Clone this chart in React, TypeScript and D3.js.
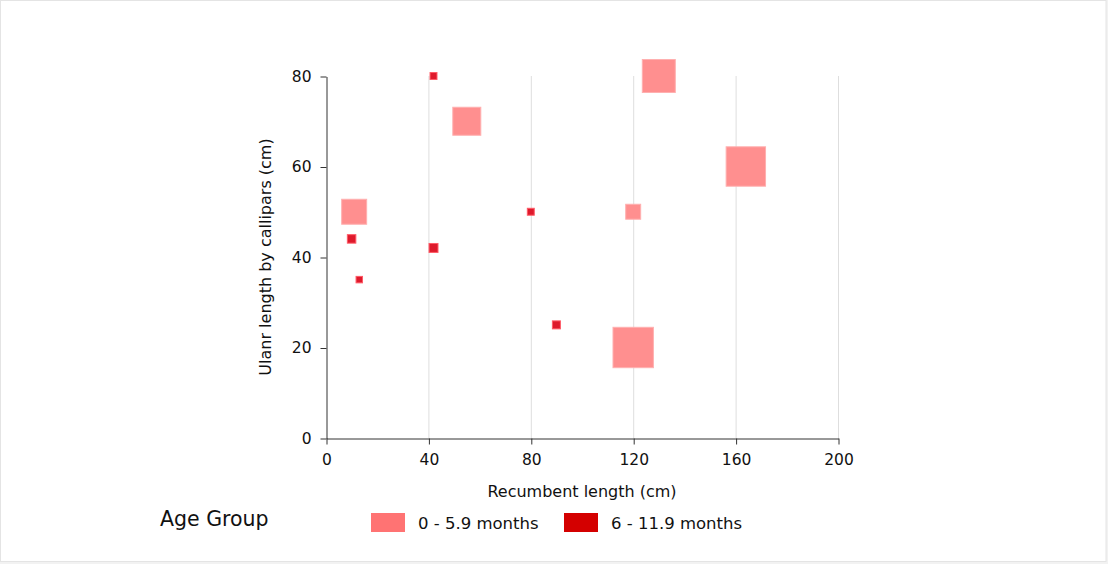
import React, { useEffect, useRef } from "react";
import * as d3 from "d3";

// ---- data ----
const groups = ["0 - 5.9 months", "6 - 11.9 months"];
// 0 - 5.9 months
const youngLength = [11, 55, 130, 120, 164, 120];
const youngUlnar = [50, 70, 80, 50, 60, 20];
const youngWeight = [39, 49, 68, 14, 97, 102];
// 6 - 11.9 months
const olderLength = [42, 10, 13, 42, 80, 90];
const olderUlnar = [80, 44, 35, 42, 50, 25];
const olderWeight = [3, 4.5, 2.6, 5, 3, 4];

const xTicks = [0, 40, 80, 120, 160, 200];
const yTicks = [0, 20, 40, 60, 80];

const legendColors = ["#ff7373", "#d40000"];
const markerFill = ["#ff8f8f", "#de1a2c"];
const markerStroke = ["#ffb0b0", "#ff5a66"];

const FONT = "'DejaVu Sans', Verdana, sans-serif";

export default function App() {
  const ref = useRef<SVGSVGElement>(null);

  useEffect(() => {
    document.body.style.margin = "0";
    const svg = d3.select(ref.current);
    svg.selectAll("*").remove();

    const W = 1108, H = 564;
    const left = 326, right = 838, top = 76, bottom = 438;

    svg.append("rect").attr("x", 0).attr("y", 0).attr("width", W).attr("height", H).attr("fill", "#f2f2f2");
    svg.append("rect").attr("x", 0.5).attr("y", 0.5).attr("width", W - 2.5).attr("height", H - 3)
      .attr("fill", "#fff").attr("stroke", "#e4e4e4");

    const x = d3.scaleLinear().domain([0, 200]).range([left, right]);
    const y = d3.scaleLinear().domain([0, 80]).range([bottom, top]);
    const side = d3.scaleSqrt().domain([0, 100]).range([0, 40]);

    // grid
    svg.append("g").selectAll("line").data(xTicks.filter(t => t > 0)).join("line")
      .attr("x1", d => x(d) + 0.5).attr("x2", d => x(d) + 0.5)
      .attr("y1", top).attr("y2", bottom)
      .attr("stroke", "#dedede").attr("stroke-width", 1);

    // axes
    const gx = svg.append("g").attr("transform", `translate(0.5,${bottom + 0.5})`)
      .call(d3.axisBottom(x).tickValues(xTicks).tickSize(6).tickPadding(9).tickSizeOuter(0));
    const gy = svg.append("g").attr("transform", `translate(${left + 0.5},0.5)`)
      .call(d3.axisLeft(y).tickValues(yTicks).tickSize(6).tickPadding(9).tickSizeOuter(0));
    [gx, gy].forEach(g => {
      g.select(".domain").attr("stroke", "#333");
      g.selectAll(".tick line").attr("stroke", "#333");
      g.selectAll("text").attr("fill", "#111").style("font-family", FONT).style("font-size", "15.5px");
    });

    // titles
    svg.append("text").attr("x", 582).attr("y", 497).attr("text-anchor", "middle")
      .style("font-family", FONT).style("font-size", "16px").attr("fill", "#111")
      .text("Recumbent length (cm)");
    svg.append("text").attr("transform", `translate(271,257) rotate(-90)`).attr("text-anchor", "middle")
      .style("font-family", FONT).style("font-size", "16px").attr("fill", "#111")
      .text("Ulanr length by callipars (cm)");

    // markers
    const series = [
      youngLength.map((v, i) => ({ x: v, y: youngUlnar[i], w: youngWeight[i] })),
      olderLength.map((v, i) => ({ x: v, y: olderUlnar[i], w: olderWeight[i] })),
    ];
    series.forEach((pts, si) => {
      svg.append("g").selectAll("rect").data(pts).join("rect")
        .attr("x", d => x(d.x) - side(d.w) / 2)
        .attr("y", d => y(d.y) - side(d.w) / 2)
        .attr("width", d => side(d.w))
        .attr("height", d => side(d.w))
        .attr("fill", markerFill[si])
        .attr("stroke", markerStroke[si])
        .attr("stroke-width", 1);
    });

    // legend
    svg.append("text").attr("x", 160).attr("y", 526)
      .style("font-family", FONT).style("font-size", "20.5px").attr("fill", "#111")
      .text("Age Group");
    const legX = [371, 564];
    groups.forEach((g, i) => {
      svg.append("rect").attr("x", legX[i]).attr("y", 513).attr("width", 34).attr("height", 19)
        .attr("fill", legendColors[i]);
      svg.append("text").attr("x", legX[i] + 47).attr("y", 529)
        .style("font-family", FONT).style("font-size", "16.5px").attr("fill", "#111")
        .text(g);
    });
  }, []);

  return <svg ref={ref} width={1108} height={564} style={{ display: "block" }} />;
}
